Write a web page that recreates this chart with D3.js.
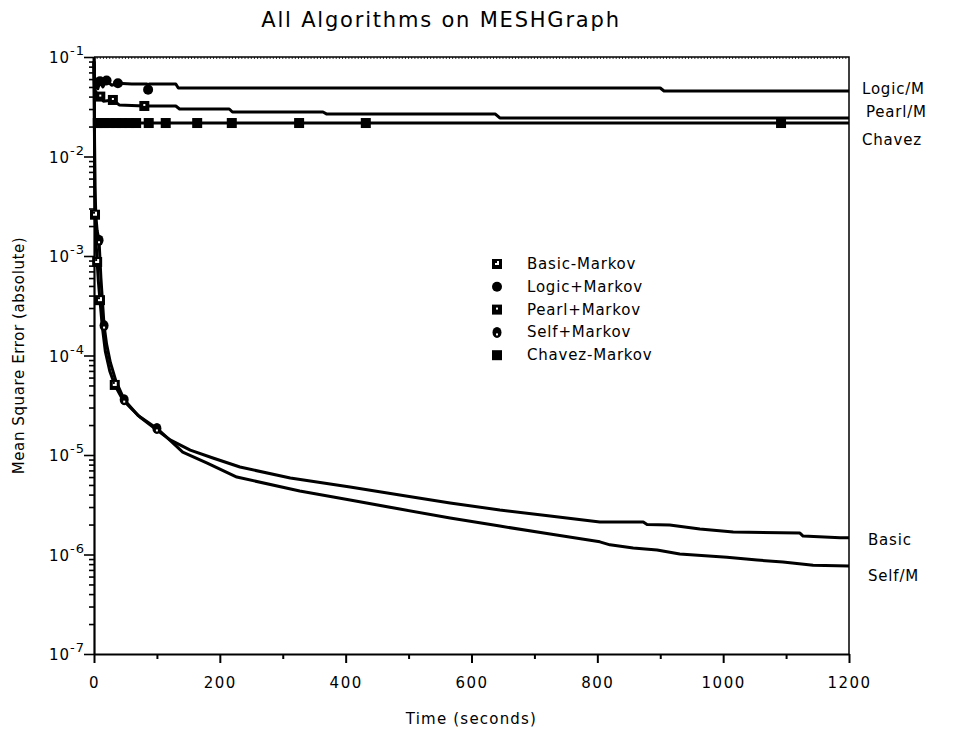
<!DOCTYPE html>
<html><head><meta charset="utf-8">
<script src="https://cdn.jsdelivr.net/npm/d3@7"></script>
<style>
body{margin:0;background:#fff}
svg{display:block}
text{font-family:"DejaVu Sans",sans-serif;fill:#000}
</style>
</head><body>
<svg id="c" width="953" height="732"></svg>
<script>
// ---------------- data ----------------
const basicT = [0,0.5,1,1.6,3,5,7,9.5,13,18,25,33,46,60,73,100,121,153,189,232,312,407,486,566,645,725,804,873,879,915,963,1016,1122,1127,1186,1200];
const basicV = [0.09,0.03,8e-3,2.6e-3,1.5e-3,8.7e-4,5.5e-4,3.6e-4,2e-4,1.1e-4,7e-5,5.06e-5,3.57e-5,2.9e-5,2.41e-5,1.78e-5,1.42e-5,1.12e-5,9.33e-6,7.57e-6,5.87e-6,4.77e-6,3.96e-6,3.3e-6,2.8e-6,2.44e-6,2.12e-6,2.12e-6,2.0e-6,1.98e-6,1.80e-6,1.68e-6,1.64e-6,1.53e-6,1.47e-6,1.47e-6];
const basicMarks = [1.6,5,9.5,33];

const selfT = [0,0.7,1.5,3,5,8,11,16,20,26,35,48,70,100,121,141,180,227,327,407,486,566,645,725,804,820,857,895,931,1006,1054,1095,1143,1200];
const selfV = [0.1,0.02,5e-3,2.5e-3,1.8e-3,1.44e-3,6e-4,2e-4,1.3e-4,8.5e-5,5.5e-5,3.6e-5,2.5e-5,1.85e-5,1.4e-5,1.07e-5,8.3e-6,6.0e-6,4.35e-6,3.53e-6,2.86e-6,2.33e-6,1.93e-6,1.61e-6,1.34e-6,1.25e-6,1.16e-6,1.11e-6,1.01e-6,9.4e-7,8.8e-7,8.4e-7,7.8e-7,7.66e-7];
const selfMarks = [8,16,48,100];

const logicT = [0,1,3,6,9.5,14,20,28,38,60,84,86,88,130,134,900,906,1200];
const logicV = [0.09,0.045,0.06,0.048,0.057,0.05,0.058,0.052,0.0545,0.0536,0.0536,0.047,0.0536,0.0536,0.0488,0.0488,0.0455,0.0455];
const logicMarks = [9.5,20,38,86];

const pearlT = [0,1,3,6,10,15,30,40,80,130,136,215,220,364,370,638,645,1200];
const pearlV = [0.09,0.04,0.045,0.038,0.04,0.036,0.037,0.033,0.0322,0.0322,0.030,0.030,0.028,0.028,0.0267,0.0267,0.0244,0.0244];
const pearlMarks = [10,30,80];

const chavezT = [0,6,10,16,25,35,44,56,67,87,114,164,219,326,432,1092,1200];
const chavezV = [0.0217,0.0217,0.0217,0.0217,0.0217,0.0217,0.0217,0.0217,0.0217,0.0217,0.0217,0.0217,0.0217,0.0217,0.0217,0.0217,0.0217];
const chavezMarks = [6,10,16,25,35,44,56,67,87,114,164,219,326,432,1092];

const legendNames = ["Basic-Markov","Logic+Markov","Pearl+Markov","Self+Markov","Chavez-Markov"];
const endLabels = ["Logic/M","Pearl/M","Chavez","Basic","Self/M"];
const xTicks = [0,200,400,600,800,1000,1200];
const xMinorTicks = [100,300,500,700,900,1100];
const yExponents = [-1,-2,-3,-4,-5,-6,-7];
const titleText = "All Algorithms on MESHGraph";
const xTitle = "Time (seconds)";
const yTitle = "Mean Square Error (absolute)";

// ---------------- chart ----------------
const svg = d3.select("#c");
const L = 94, R = 849, T = 57, B = 654;
const x = d3.scaleLinear().domain([0,1200]).range([L,R]);
const y = d3.scaleLog().domain([1e-7,1e-1]).range([B,T]);

// title
svg.append("text").attr("x",441).attr("y",27).attr("text-anchor","middle")
  .attr("font-size",21).attr("letter-spacing",1.8).text(titleText);

// frame top and right
svg.append("path").attr("fill","none").attr("stroke","#000").attr("stroke-width",1.5)
  .attr("d",`M${x(0)},${y(1e-1)}H${x(1200)}V${y(1e-7)}`);

// top fine ticks (dotted texture)
svg.append("g").selectAll("line").data(d3.range(5,1200,5)).join("line")
  .attr("x1",d=>x(d)).attr("x2",d=>x(d)).attr("y1",y(1e-1)).attr("y2",y(1e-1)+2)
  .attr("stroke","#000").attr("stroke-width",0.8);

// x axis
const gx = svg.append("g").attr("transform",`translate(0,${B})`)
  .call(d3.axisBottom(x).tickValues(xTicks).tickSize(9).tickSizeOuter(0).tickFormat(d3.format("d")));
gx.select(".domain").attr("stroke-width",2.2);
gx.selectAll(".tick line").attr("stroke-width",2);
gx.selectAll(".tick text").attr("font-size",15).attr("letter-spacing",1.5).attr("dy","1.45em");
const gxm = svg.append("g").attr("transform",`translate(0,${B})`)
  .call(d3.axisBottom(x).tickValues(xMinorTicks).tickSize(5).tickSizeOuter(0).tickFormat(""));
gxm.select(".domain").remove();
gxm.selectAll(".tick line").attr("stroke-width",2);

// y axis
const decades = yExponents.map(e=>Math.pow(10,e));
const minors = [];
yExponents.slice(1).forEach(e=>{ for(let k=2;k<=9;k++) minors.push(k*Math.pow(10,e)); });
const gy = svg.append("g").attr("transform",`translate(${L},0)`)
  .call(d3.axisLeft(y).tickValues(decades).tickSize(10).tickSizeOuter(0).tickFormat(""));
gy.select(".domain").attr("stroke-width",2.2);
gy.selectAll(".tick line").attr("stroke-width",1.6);
const gym = svg.append("g").attr("transform",`translate(${L},0)`)
  .call(d3.axisLeft(y).tickValues(minors).tickSize(5).tickSizeOuter(0).tickFormat(""));
gym.select(".domain").remove();
gym.selectAll(".tick line").attr("stroke-width",1.6);

// y labels: 10^-n
yExponents.forEach(e=>{
  const t = svg.append("text").attr("x",L-9).attr("y",y(Math.pow(10,e))+6)
    .attr("text-anchor","end").attr("font-size",15).attr("letter-spacing",1);
  t.append("tspan").text("10");
  t.append("tspan").attr("dy",-8).attr("font-size",13).text("-"+(-e));
});

// axis titles
svg.append("text").attr("x",(L+R)/2).attr("y",724).attr("text-anchor","middle")
  .attr("font-size",15).attr("letter-spacing",1.2).text(xTitle);
svg.append("text").attr("transform",`translate(24,${(T+B)/2}) rotate(-90)`)
  .attr("text-anchor","middle").attr("font-size",15).attr("letter-spacing",0.6).text(yTitle);

// series
const series = [
  {t:basicT,v:basicV,m:basicMarks,sym:"basic"},
  {t:logicT,v:logicV,m:logicMarks,sym:"logic"},
  {t:pearlT,v:pearlV,m:pearlMarks,sym:"pearl"},
  {t:selfT,v:selfV,m:selfMarks,sym:"self"},
  {t:chavezT,v:chavezV,m:chavezMarks,sym:"chavez"}
];
const line = d3.line().x(d=>x(d[0])).y(d=>y(d[1]));
series.forEach(s=>{
  const pts = s.t.map((t,i)=>[t,s.v[i]]);
  svg.append("path").datum(pts).attr("fill","none").attr("stroke","#000")
    .attr("stroke-width",3).attr("stroke-linejoin","round").attr("d",line);
});

function drawMarker(g,sym,cx,cy){
  if(sym==="basic"){
    g.append("rect").attr("x",cx-5).attr("y",cy-5).attr("width",10).attr("height",10).attr("fill","#000");
    g.append("rect").attr("x",cx-2).attr("y",cy-3).attr("width",4).attr("height",4).attr("fill","#fff");
    g.append("rect").attr("x",cx-2).attr("y",cy-3).attr("width",2).attr("height",2).attr("fill","#000");
  } else if(sym==="logic"){
    g.append("circle").attr("cx",cx).attr("cy",cy).attr("r",5).attr("fill","#000");
  } else if(sym==="pearl"){
    g.append("rect").attr("x",cx-5).attr("y",cy-5).attr("width",10).attr("height",10).attr("fill","#000");
    g.append("rect").attr("x",cx-1).attr("y",cy-2).attr("width",2).attr("height",2).attr("fill","#fff");
  } else if(sym==="self"){
    g.append("ellipse").attr("cx",cx).attr("cy",cy).attr("rx",4.5).attr("ry",5.5).attr("fill","#000");
    g.append("rect").attr("x",cx-1).attr("y",cy+1).attr("width",2).attr("height",2).attr("fill","#fff");
  } else {
    g.append("rect").attr("x",cx-5).attr("y",cy-5).attr("width",10).attr("height",10).attr("fill","#000");
  }
}
const gm = svg.append("g");
series.forEach(s=>{
  s.m.forEach(mt=>{
    const i = s.t.indexOf(mt);
    if(i>=0) drawMarker(gm,s.sym,x(s.t[i]),y(s.v[i]));
  });
});

// legend
const lg = svg.append("g");
legendNames.forEach((n,i)=>{
  const yy = 264 + i*22.8;
  drawMarker(lg,series[i].sym,497,yy);
  lg.append("text").attr("x",527).attr("y",yy+5).attr("font-size",15).attr("letter-spacing",0.8).text(n);
});

// end labels
const endPos = [
  {v:logicV[logicV.length-1],dy:3,dx:13},
  {v:pearlV[pearlV.length-1],dy:-1,dx:17},
  {v:chavezV[chavezV.length-1],dy:22,dx:13},
  {v:basicV[basicV.length-1],dy:7,dx:19},
  {v:selfV[selfV.length-1],dy:15,dx:19}
];
endLabels.forEach((n,i)=>{
  svg.append("text").attr("x",R+endPos[i].dx).attr("y",y(endPos[i].v)+endPos[i].dy)
    .attr("font-size",15).attr("letter-spacing",0.8).text(n);
});
</script>
</body></html>
